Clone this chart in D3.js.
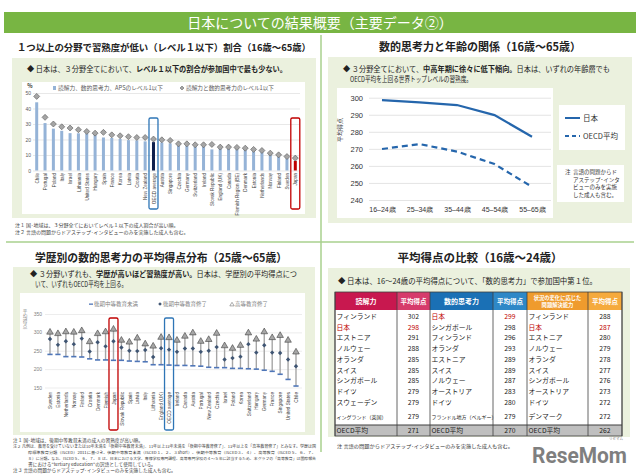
<!DOCTYPE html>
<html>
<head>
<meta charset="utf-8">
<script src="https://cdn.jsdelivr.net/npm/d3@7"></script>
<style>
body { margin: 0; background: #fff; }
svg { display: block; font-family: "Noto Sans CJK JP", "Noto Sans", sans-serif; }
</style>
</head>
<body>
<svg id="chart" width="640" height="475"></svg>
<script>
// ---- data: level 1 or below share (%) ----
const lowCountries = ["Chile","Portugal","Poland","Italy","Israel","Lithuania","United States","Hungary","Spain","France","Korea","Latvia","Croatia","New Zealand","OECD average","Austria","Singapore","Czechia","Germany","Switzerland","Ireland","Slovak Republic","England (UK)","Canada","Flemish Region (BE)","Denmark","Estonia","Netherlands","Norway","Finland","Sweden","Japan"];
const lowAll = [44, 30.6, 27, 25.6, 24.1, 24, 24, 23, 21.3, 21, 20.4, 19.6, 19.4, 18.8, 18.3, 18.1, 17.5, 16.2, 16, 15.5, 15.5, 13.6, 14.4, 14.4, 13.8, 13.4, 12.3, 12.1, 10.8, 9, 8, 6.2];
const lowLitNum = [47.8, 34.3, 30, 28.2, 27.4, 26.3, 25.2, 24.1, 24.6, 23, 22.4, 21.8, 21.3, 21.3, 20.3, 19.8, 19.4, 17.2, 17.2, 16.6, 16.6, 16.8, 15.1, 15.1, 14.9, 14.4, 13.6, 12.9, 11.2, 10.1, 9, 8];
const lowTicks = [0, 10, 20, 30, 40, 50];

// ---- data: numeracy by age ----
const ageGroups = ["16–24歳", "25–34歳", "35–44歳", "45–54歳", "55–65歳"];
const japanAge = [298.6, 297.3, 295.7, 289.8, 277.1];
const oecdAge = [269.9, 272.8, 268.4, 261.1, 247.7];
const ageTicks = [240, 250, 260, 270, 280, 290, 300];

// ---- data: numeracy by education ----
const eduCountries = ["Sweden","Estonia","Netherlands","Norway","Finland","Croatia","Denmark","Flemish","Japan","Slovak Republic","Spain","Latvia","Italy","Lithuania","England (UK)","OECD average","Ireland","Canada","Austria","Portugal","New Zealand","Czechia","Israel","Poland","Korea","Switzerland","Hungary","Germany","France","Singapore","United States","Chile"];
const eduBelow = [240, 240, 234, 234, 233, 228, 225, 225, 224, 224, 222, 221, 220, 212, 212, 211, 210, 210, 209, 208, 205, 204, 204, 202, 202, 201, 200, 197, 194, 186, 172, 154];
const eduUpper = [282, 266, 276, 268, 283, 248, 273, 262, 276, 259, 250, 249, 252, 233, 257, 253, 247, 256, 256, 247, 250, 260, 226, 230, 234, 268, 245, 265, 245, 244, 226, 208];
const eduTertiary = [302, 298, 303, 302, 306, 276, 298, 303, 310, 280, 275, 286, 270, 264, 288, 287, 280, 291, 300, 277, 282, 299, 265, 258, 266, 300, 283, 303, 287, 293, 280, 248];
const eduTicks = [150, 200, 250, 300, 350];

// ---- data: 16-24 ranking table ----
const readNames = ["フィンランド","日本","エストニア","ノルウェー","オランダ","スイス","シンガポール","ドイツ","スウェーデン","イングランド（英国）"];
const readScores = [302, 298, 291, 288, 285, 285, 285, 279, 279, 279];
const numNames = ["日本","シンガポール","フィンランド","オランダ","エストニア","スイス","ノルウェー","オーストリア","ドイツ","フランドル地方（ベルギー）"];
const numScores = [299, 298, 296, 293, 289, 289, 287, 283, 280, 279];
const apsNames = ["フィンランド","日本","エストニア","ノルウェー","オランダ","スイス","シンガポール","オーストリア","ドイツ","デンマーク"];
const apsScores = [288, 287, 280, 279, 278, 277, 276, 273, 272, 272];
const oecdScores = [271, 270, 262];

const svg = d3.select("#chart");
const green = "#78b543", divider = "#a9d08e", panel = "#ebf1de";

function txt(g, x, y, s, size, opt = {}) {
  const t = g.append("text").attr("x", x).attr("y", y)
    .attr("font-size", size)
    .attr("fill", opt.fill || "#222")
    .attr("text-anchor", opt.anchor || "start")
    .attr("font-weight", opt.bold ? "bold" : "normal")
    .text(s);
  if (opt.len) t.attr("textLength", opt.len).attr("lengthAdjust", "spacingAndGlyphs");
  return t;
}
function mixed(g, x, y, parts, size, len) {
  const t = g.append("text").attr("x", x).attr("y", y).attr("font-size", size).attr("fill", "#222");
  parts.forEach(p => t.append("tspan").attr("font-weight", p[1] ? "bold" : "normal").text(p[0]));
  if (len) t.attr("textLength", len).attr("lengthAdjust", "spacingAndGlyphs");
  return t;
}
const diamond = "M0,-3L3,0L0,3L-3,0Z";

// title bar
svg.append("rect").attr("x", 4).attr("y", 12).attr("width", 632).attr("height", 21).attr("fill", green);
txt(svg, 320, 27.5, "日本についての結果概要（主要データ②）", 14, { fill: "#fff", anchor: "middle" });

// dividers
svg.append("line").attr("x1", 321).attr("x2", 321).attr("y1", 35).attr("y2", 452).attr("stroke", divider).attr("stroke-width", 1.5);
svg.append("line").attr("x1", 6).attr("x2", 634).attr("y1", 242).attr("y2", 242).attr("stroke", divider).attr("stroke-width", 1.5);

// headers
txt(svg, 17, 51, "１つ以上の分野で習熟度が低い（レベル１以下）割合（16歳～65歳）", 9.5, { bold: true, len: 294 });
txt(svg, 480, 51, "数的思考力と年齢の関係（16歳～65歳）", 11, { bold: true, anchor: "middle" });
txt(svg, 161, 262, "学歴別の数的思考力の平均得点分布（25歳～65歳）", 11.5, { bold: true, anchor: "middle", len: 252 });
txt(svg, 480, 262, "平均得点の比較（16歳～24歳）", 11.5, { bold: true, anchor: "middle" });

// panels
svg.append("rect").attr("x", 12).attr("y", 58).attr("width", 304).attr("height", 160).attr("fill", panel);
svg.append("rect").attr("x", 328).attr("y", 57).attr("width", 304).attr("height", 166).attr("fill", panel);
svg.append("rect").attr("x", 13).attr("y", 267).attr("width", 302).attr("height", 168).attr("fill", panel);
svg.append("rect").attr("x", 328).attr("y", 268).attr("width", 302).attr("height", 169).attr("fill", panel);

// ================= top-left =================
mixed(svg, 27, 72, [["◆ 日本は、３分野全てにおいて、", false], ["レベル１以下の割合が参加国中で最も少ない。", true]], 7.5, 260);
svg.append("rect").attr("x", 22).attr("y", 82).attr("width", 283).attr("height", 132).attr("fill", "#fff");

const xL = d3.scalePoint().domain(lowCountries).range([36.7, 295.3]);
const yL = d3.scaleLinear().domain([0, 50]).range([170.5, 93]);
const gL = svg.append("g");
gL.append("g").attr("transform", "translate(33,0)")
  .call(d3.axisLeft(yL).tickValues(lowTicks).tickSize(-267).tickPadding(2))
  .call(g => g.select(".domain").remove())
  .call(g => g.selectAll(".tick line").attr("stroke", "#d9d9d9").attr("stroke-width", 0.6))
  .call(g => g.selectAll(".tick text").attr("font-size", 5).attr("fill", "#595959").attr("font-family", null));
txt(gL, 30, 88, "%", 5.5, { fill: "#404040", anchor: "middle", bold: true });

gL.selectAll("rect.bar").data(lowCountries).join("rect").attr("class", "bar")
  .attr("x", d => xL(d) - 1.5).attr("width", 3)
  .attr("y", (d, i) => yL(lowAll[i])).attr("height", (d, i) => yL(0) - yL(lowAll[i]))
  .attr("fill", d => d === "Japan" ? "#c00000" : d === "OECD average" ? "#0d1f4d" : "#95b3d7");
gL.selectAll("path.dia").data(lowCountries).join("path").attr("class", "dia")
  .attr("d", diamond)
  .attr("transform", (d, i) => `translate(${xL(d)},${yL(lowLitNum[i])})`)
  .attr("fill", "#a5a5a5").attr("stroke", "#595959").attr("stroke-width", 0.6);

gL.append("g").attr("transform", "translate(0,171)")
  .call(d3.axisBottom(xL).tickSize(0))
  .call(g => g.select(".domain").remove())
  .call(g => g.selectAll(".tick text").attr("font-size", 4.6).attr("fill", "#404040").attr("font-family", null)
    .attr("transform", "rotate(-90)").attr("x", -2).attr("y", 0).attr("dy", "0.35em").attr("text-anchor", "end"));

[["OECD average", "#2e75b6"], ["Japan", "#c00000"]].forEach(([c, col]) => {
  gL.append("rect").attr("x", xL(c) - 4.5).attr("y", 118).attr("width", 9).attr("height", 91)
    .attr("rx", 1.5).attr("fill", "none").attr("stroke", col).attr("stroke-width", 1.3);
});

// legend
gL.append("rect").attr("x", 53).attr("y", 86).attr("width", 3).attr("height", 4).attr("fill", "#95b3d7");
txt(gL, 58, 90, "読解力、数的思考力、APSのレベル1以下", 5.5, { fill: "#595959", len: 105 });
gL.append("path").attr("d", "M0,-2L2,0L0,2L-2,0Z").attr("transform", "translate(182,88)").attr("fill", "#a5a5a5").attr("stroke", "#595959").attr("stroke-width", 0.5);
txt(gL, 186, 90, "読解力と数的思考力のレベル1以下", 5.5, { fill: "#595959", len: 88 });

txt(svg, 15, 227, "注１ 国･地域は、３分野全てにおいてレベル１以下の成人割合が高い順。", 5, { fill: "#404040" });
txt(svg, 15, 234, "注２ 言語の問題からドアステップ･インタビューのみを実施した成人も含む。", 5, { fill: "#404040" });

// ================= top-right =================
mixed(svg, 343, 71.5, [["◆ ３分野全てにおいて、", false], ["中高年期に徐々に低下傾向。", true], ["日本は、いずれの年齢層でも", false]], 7.5, 267);
txt(svg, 350, 82, "OECD平均を上回る世界トップレベルの習熟度。", 7.5, { len: 122 });
svg.append("rect").attr("x", 337).attr("y", 88).attr("width", 216).attr("height", 130).attr("fill", "#fff");

const xA = d3.scalePoint().domain(ageGroups).range([382, 532]);
const yA = d3.scaleLinear().domain([240, 300]).range([200, 97.7]);
const gA = svg.append("g");
gA.append("g").attr("transform", "translate(369,0)")
  .call(d3.axisLeft(yA).tickValues(ageTicks).tickSize(-182).tickPadding(6))
  .call(g => g.select(".domain").remove())
  .call(g => g.selectAll(".tick line").attr("stroke", "#d9d9d9").attr("stroke-width", 0.7))
  .call(g => g.selectAll(".tick text").attr("font-size", 7.5).attr("fill", "#333").attr("font-family", null));
gA.append("g").attr("transform", "translate(0,204)")
  .call(d3.axisBottom(xA).tickSize(0).tickPadding(3))
  .call(g => g.select(".domain").remove())
  .call(g => g.selectAll(".tick text").attr("font-size", 7).attr("fill", "#333").attr("font-family", null));
txt(gA, 0, 0, "平均得点", 6, { fill: "#404040", anchor: "middle" }).attr("transform", "translate(342,130) rotate(-90)");

const lineA = d3.line().x((d, i) => xA(ageGroups[i])).y(d => yA(d));
gA.append("path").attr("d", lineA(japanAge)).attr("fill", "none").attr("stroke", "#2566ac").attr("stroke-width", 2.2);
gA.append("path").attr("d", lineA(oecdAge)).attr("fill", "none").attr("stroke", "#2566ac").attr("stroke-width", 2.2).attr("stroke-dasharray", "6,4");

svg.append("rect").attr("x", 559).attr("y", 105).attr("width", 66).attr("height", 45).attr("fill", "#fff");
svg.append("line").attr("x1", 565).attr("x2", 580).attr("y1", 118).attr("y2", 118).attr("stroke", "#2566ac").attr("stroke-width", 2);
txt(svg, 583, 121, "日本", 7.5, { fill: "#333" });
svg.append("line").attr("x1", 565).attr("x2", 580).attr("y1", 136).attr("y2", 136).attr("stroke", "#2566ac").attr("stroke-width", 2).attr("stroke-dasharray", "4,3");
txt(svg, 583, 139, "OECD平均", 7.5, { fill: "#333" });

svg.append("rect").attr("x", 557).attr("y", 165).attr("width", 67).attr("height", 37).attr("fill", "#fff");
txt(svg, 565, 174, "注", 5.5, { fill: "#333" });
["言語の問題からド", "アステップ･インタ", "ビューのみを実施", "した成人も含む。"].forEach((s, i) => {
  txt(svg, 573, 174 + i * 7.6, s, 5.5, { fill: "#333" });
});

// ================= bottom-left =================
mixed(svg, 30, 276.5, [["◆ ３分野いずれも、", false], ["学歴が高いほど習熟度が高い。", true], ["日本は、学歴別の平均得点につ", false]], 7.5, 267);
txt(svg, 35, 286.5, "いて、いずれもOECD平均を上回る。", 7.5, { len: 92 });
svg.append("rect").attr("x", 20).attr("y", 293).attr("width", 285).attr("height", 139).attr("fill", "#fff");

const xE = d3.scalePoint().domain(eduCountries).range([50, 296]);
const yE = d3.scaleLinear().domain([150, 350]).range([387.5, 314]);
const gE = svg.append("g");
gE.append("g").attr("transform", "translate(45,0)")
  .call(d3.axisLeft(yE).tickValues(eduTicks).tickSize(-257).tickPadding(3))
  .call(g => g.select(".domain").remove())
  .call(g => g.selectAll(".tick line").attr("stroke", "#e0e0e0").attr("stroke-width", 0.6))
  .call(g => g.selectAll(".tick text").attr("font-size", 5).attr("fill", "#7f7f7f").attr("font-family", null));
["平", "均", "得", "点"].forEach((c, i) => txt(gE, 25, 313 + i * 5, c, 4.6, { fill: "#7f7f7f", anchor: "middle" }));

gE.selectAll("line.rng").data(eduCountries).join("line").attr("class", "rng")
  .attr("x1", d => xE(d)).attr("x2", d => xE(d))
  .attr("y1", (d, i) => yE(eduBelow[i])).attr("y2", (d, i) => yE(eduTertiary[i]))
  .attr("stroke", "#a6a6a6").attr("stroke-width", 1.4);
gE.selectAll("rect.low").data(eduCountries).join("rect").attr("class", "low")
  .attr("x", d => xE(d) - 2.6).attr("width", 5.2)
  .attr("y", (d, i) => yE(eduBelow[i]) - 0.8).attr("height", 1.6)
  .attr("fill", "#4f76b8");
gE.selectAll("path.mid").data(eduCountries).join("path").attr("class", "mid")
  .attr("d", "M0,-2.2L2.2,0L0,2.2L-2.2,0Z")
  .attr("transform", (d, i) => `translate(${xE(d)},${yE(eduUpper[i])})`)
  .attr("fill", "#3f5573");
gE.selectAll("path.tri").data(eduCountries).join("path").attr("class", "tri")
  .attr("d", "M0,-3.2L3.3,2.5L-3.3,2.5Z")
  .attr("transform", (d, i) => `translate(${xE(d)},${yE(eduTertiary[i])})`)
  .attr("fill", "#a6a6a6").attr("stroke", "#404040").attr("stroke-width", 0.6);

gE.append("g").attr("transform", "translate(0,391)")
  .call(d3.axisBottom(xE).tickSize(0))
  .call(g => g.select(".domain").remove())
  .call(g => g.selectAll(".tick text").attr("font-size", 4.7).attr("fill", "#404040").attr("font-family", null)
    .attr("transform", "rotate(-90)").attr("x", -1).attr("y", 0).attr("dy", "0.35em").attr("text-anchor", "end"));

[["OECD average", "#2e75b6"], ["Japan", "#c00000"]].forEach(([c, col]) => {
  gE.append("rect").attr("x", xE(c) - 4.5).attr("y", 318).attr("width", 9).attr("height", 112)
    .attr("rx", 1.5).attr("fill", "none").attr("stroke", col).attr("stroke-width", 1.3);
});

// legend
gE.append("rect").attr("x", 89).attr("y", 303.5).attr("width", 4).attr("height", 1.3).attr("fill", "#4f76b8");
txt(gE, 94, 306, "後期中等教育未満", 5.5, { fill: "#7f7f7f" });
gE.append("path").attr("d", "M0,-1.8L1.8,0L0,1.8L-1.8,0Z").attr("transform", "translate(160,304)").attr("fill", "#3f5573");
txt(gE, 163, 306, "後期中等教育修了", 5.5, { fill: "#7f7f7f" });
gE.append("path").attr("d", "M0,-2L2.2,1.6L-2.2,1.6Z").attr("transform", "translate(232,304.3)").attr("fill", "#fff").attr("stroke", "#595959").attr("stroke-width", 0.5);
txt(gE, 235, 306, "高等教育修了", 5.5, { fill: "#7f7f7f" });

const eduNotes = [
  [13, 442, "注１ 国･地域は、後期中等教育未満の成人の習熟度が高い順。", 4.7, 0],
  [13, 448, "注２ 凡例は、教育を受けていないまたは10年未満を「後期中等教育未満」、11年以上13年未満を「後期中等教育修了」、13年以上を「高等教育修了」とみなす。学歴は国", 4.05, 303],
  [28, 454, "際標準教育分類（ISCED）2011に基づき、後期中等教育未満（ISCED１、２、３short）、後期中等教育（ISCED３、４）、高等教育（ISCED５、６、７、", 3.9, 288],
  [28, 460, "８）に分類。なお、ISCED５、６、７、８ は、日本における大学、専修学校専門課程、高等専門学校の４～５年に該当するため、本グラフの「高等教育」は国際報告", 3.9, 288],
  [28, 466, "書における\"tertiary education\"の訳語として使用している。", 4.7, 0],
  [13, 472, "注３ 言語の問題からドアステップ･インタビューのみを実施した成人も含む。", 4.7, 0]
];
eduNotes.forEach(([x, y, s, fs, len]) => txt(svg, x, y, s, fs, len ? { fill: "#404040", len } : { fill: "#404040" }));

// ================= bottom-right table =================
txt(svg, 338, 283.5, "◆ 日本は、16～24歳の平均得点について、「数的思考力」で参加国中第１位。", 7.5, { len: 259 });

const colX = [335, 397, 430, 493, 527, 588, 622];
const headColors = ["#c8184f", "#d63b6b", "#1a70b5", "#2e88c7", "#ef9b2d", "#f5aa3c"];
const heads = ["読解力", "平均得点", "数的思考力", "平均得点", "", "平均得点"];
const tableTop = 292, headBottom = 310, oecdTop = 425, tableBottom = 436;
const rowTop = i => i < 9 ? headBottom + 1 + i * 10.75 : headBottom + 1 + 9 * 10.75;
const rowH = i => i < 9 ? 10.75 : oecdTop - rowTop(9);
const gT = svg.append("g");
gT.append("rect").attr("x", colX[0]).attr("y", tableTop).attr("width", colX[6] - colX[0]).attr("height", tableBottom - tableTop).attr("fill", "#fff");
heads.forEach((h, i) => {
  gT.append("rect").attr("x", colX[i]).attr("y", tableTop).attr("width", colX[i + 1] - colX[i]).attr("height", headBottom - tableTop).attr("fill", headColors[i]);
  if (h) txt(gT, (colX[i] + colX[i + 1]) / 2, 303.5, h, i % 2 ? 6.5 : 7, { fill: "#fff", anchor: "middle", bold: true });
});
txt(gT, (colX[4] + colX[5]) / 2, 299.5, "状況の変化に応じた", 5.3, { fill: "#fff", anchor: "middle", bold: true });
txt(gT, (colX[4] + colX[5]) / 2, 306.5, "問題解決能力", 5.3, { fill: "#fff", anchor: "middle", bold: true });

gT.append("rect").attr("x", colX[0]).attr("y", oecdTop).attr("width", colX[6] - colX[0]).attr("height", tableBottom - oecdTop).attr("fill", "#bfbfbf");

const groups = [[readNames, readScores], [numNames, numScores], [apsNames, apsScores]];
groups.forEach(([names, scores], gi) => {
  const x0 = colX[gi * 2], xm = (colX[gi * 2 + 1] + colX[gi * 2 + 2]) / 2;
  names.forEach((n, i) => {
    const cy = rowTop(i) + rowH(i) / 2 + 2.4;
    const col = n === "日本" ? "#c00000" : "#222";
    txt(gT, x0 + 1.5, cy, n, n.length > 8 ? 5 : 6.8, { fill: col });
    txt(gT, xm, cy, scores[i], 6.8, { fill: col, anchor: "middle" });
  });
  txt(gT, x0 + 1.5, 433, "OECD平均", 6.8, { fill: "#222" });
  txt(gT, xm, 433, oecdScores[gi], 6.8, { fill: "#222", anchor: "middle" });
});
colX.forEach(x => gT.append("line").attr("x1", x).attr("x2", x).attr("y1", tableTop).attr("y2", tableBottom).attr("stroke", "#404040").attr("stroke-width", 0.8));
gT.append("line").attr("x1", colX[0]).attr("x2", colX[6]).attr("y1", oecdTop).attr("y2", oecdTop).attr("stroke", "#404040").attr("stroke-width", 1.2);
gT.append("rect").attr("x", colX[0]).attr("y", tableTop).attr("width", colX[6] - colX[0]).attr("height", tableBottom - tableTop).attr("fill", "none").attr("stroke", "#404040").attr("stroke-width", 0.8);

txt(svg, 337, 448, "注 言語の問題からドアステップ･インタビューのみを実施した成人も含む。", 5.1, { fill: "#333", len: 176 });

// logo
txt(svg, 532, 463, "ReseMom", 22, { fill: "#7f7f7f", bold: true, len: 95 }).attr("font-family", "Roboto, sans-serif");
txt(svg, 616, 440, "リセマム", 3.5, { fill: "#7f7f7f", anchor: "middle" });
</script>
</body>
</html>
